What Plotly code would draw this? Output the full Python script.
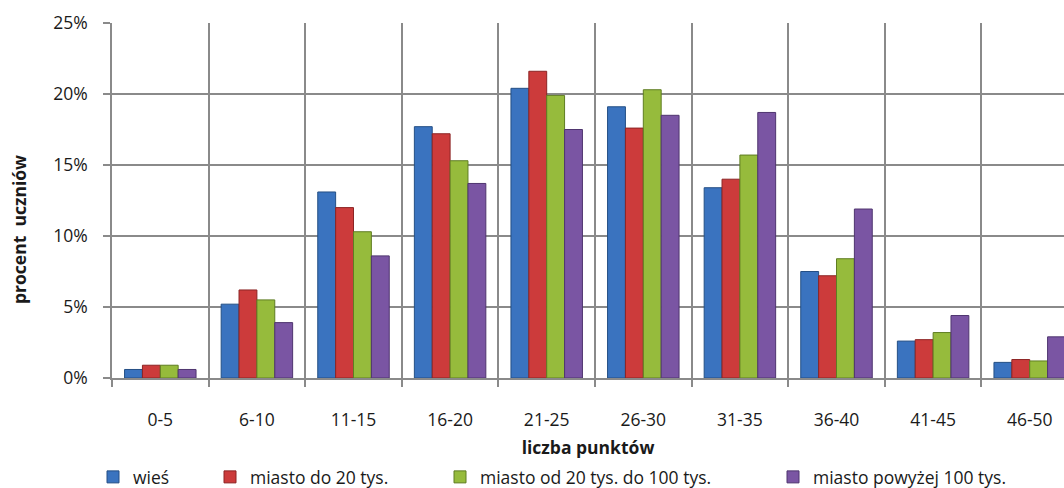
import plotly.graph_objects as go

# Score bands (points) and the share of pupils (%) in each band by place of residence
categories = ["0-5", "6-10", "11-15", "16-20", "21-25", "26-30", "31-35", "36-40", "41-45", "46-50"]

wies = [0.6, 5.2, 13.1, 17.7, 20.4, 19.1, 13.4, 7.5, 2.6, 1.1]
miasto_do_20 = [0.9, 6.2, 12.0, 17.2, 21.6, 17.6, 14.0, 7.2, 2.7, 1.3]
miasto_20_100 = [0.9, 5.5, 10.3, 15.3, 19.9, 20.3, 15.7, 8.4, 3.2, 1.2]
miasto_pow_100 = [0.6, 3.9, 8.6, 13.7, 17.5, 18.5, 18.7, 11.9, 4.4, 2.9]

series_names = ["wieś", "miasto do 20 tys.", "miasto od 20 tys. do 100 tys.", "miasto powyżej 100 tys."]
series_values = [wies, miasto_do_20, miasto_20_100, miasto_pow_100]

fill_colors = ["#3a73bf", "#cc3b3b", "#96bb3c", "#7a55a3"]
edge_colors = ["#244f85", "#8c2424", "#5f7d22", "#4f356f"]

# legend entries are placed individually (one legend box per series)
legend_ids = ["legend", "legend2", "legend3", "legend4"]
legend_x_px = [93, 210, 440, 773]

FONT = "Open Sans, Noto Sans, Liberation Sans, sans-serif"
TEXT = "#1a1a1a"
GRID = "#8a8a8a"
FS = 17.5

W, H = 1064, 488
ML, MR, MT, MB = 112, 0, 23, 110
plot_w = W - ML - MR
plot_h = H - MT - MB

fig = go.Figure()
for name, vals, fc, ec, lid in zip(series_names, series_values, fill_colors, edge_colors, legend_ids):
    fig.add_trace(go.Bar(
        x=categories,
        y=vals,
        name=name,
        legend=lid,
        showlegend=True,
        marker=dict(color=fc, line=dict(color=ec, width=1)),
        hovertemplate="%{x}: %{y:.1f}%<extra>" + name + "</extra>",
    ))

legend_common = dict(
    orientation="h",
    xref="container",
    yref="container",
    y=1 - 477 / H,
    yanchor="middle",
    xanchor="left",
    font=dict(family=FONT, size=FS, color=TEXT),
    bgcolor="rgba(0,0,0,0)",
    borderwidth=0,
    itemclick=False,
    itemdoubleclick=False,
)
legends = {}
for lid, px in zip(legend_ids, legend_x_px):
    legends[lid] = dict(legend_common, x=px / W)

fig.update_layout(
    width=W,
    height=H,
    margin=dict(l=ML, r=MR, t=MT, b=MB, pad=0),
    paper_bgcolor="white",
    plot_bgcolor="white",
    showlegend=True,
    barmode="group",
    bargap=0.26,
    bargroupgap=0,
    font=dict(family=FONT, size=FS, color=TEXT),
    **legends,
)

fig.update_xaxes(
    type="category",
    range=[-0.5, 9.355],
    tickson="boundaries",
    showgrid=True,
    gridcolor=GRID,
    gridwidth=1.5,
    showline=True,
    linecolor=GRID,
    linewidth=1.5,
    ticks="outside",
    ticklen=7,
    tickwidth=1.5,
    tickcolor=GRID,
    ticklabelstandoff=25,
    tickfont=dict(family=FONT, size=FS, color=TEXT),
    title=dict(text="<b>liczba punktów</b>", font=dict(family=FONT, size=FS, color=TEXT), standoff=16),
    fixedrange=True,
)

fig.update_yaxes(
    range=[0, 25],
    tick0=0,
    dtick=5,
    ticksuffix="%",
    showgrid=True,
    gridcolor=GRID,
    gridwidth=1.5,
    zeroline=False,
    showline=True,
    linecolor=GRID,
    linewidth=1.5,
    ticks="outside",
    ticklen=7,
    tickwidth=1.5,
    tickcolor=GRID,
    ticklabelstandoff=12,
    tickfont=dict(family=FONT, size=FS, color=TEXT),
    fixedrange=True,
)

# vertical axis title
fig.add_annotation(
    text="<b>procent  uczniów</b>",
    textangle=-90,
    xref="paper", yref="paper",
    x=(19 - ML) / plot_w,
    y=(MT + plot_h - 230) / plot_h,
    xanchor="center", yanchor="middle",
    showarrow=False,
    font=dict(family=FONT, size=FS, color=TEXT),
)

fig.write_html("out.html", config={"displayModeBar": False})
